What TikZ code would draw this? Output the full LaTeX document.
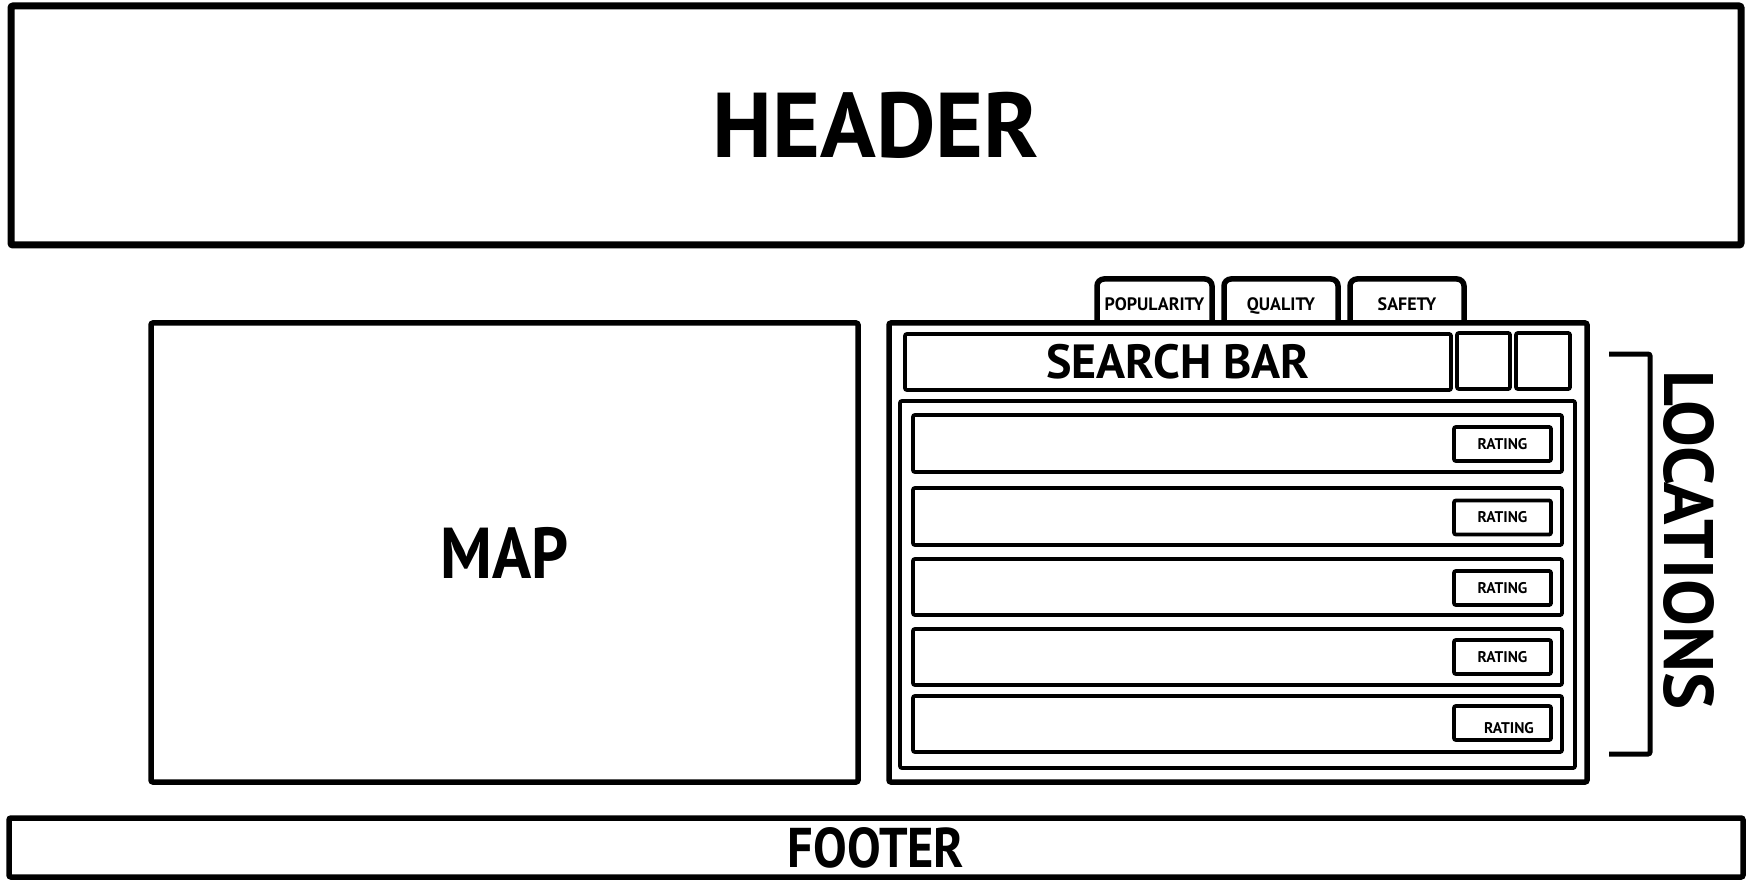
\documentclass[tikz,border=0pt]{standalone}
\usepackage{fontspec}
\setmainfont{PT Sans}
\newfontfamily\narrowfont{PT Sans}[FakeStretch=0.9]
\begin{document}
\begin{tikzpicture}[x=1pt,y=-1pt,
  box/.style={draw=black, rectangle, rounded corners=2pt, inner sep=0pt, font=\bfseries},
  thick box/.style={box, line width=7pt},
  mid box/.style={box, line width=5.5pt},
  thin box/.style={box, line width=3.8pt},
  lbl/.style={inner sep=0pt, font=\bfseries}]
\useasboundingbox (0,0) rectangle (1751,893);
% header
\node[thick box, minimum width=1730, minimum height=239, font=\bfseries\fontsize{92}{92}\selectfont] (header) at (876,125.5) {HEADER};
% map
\node[mid box, minimum width=707, minimum height=459, font=\narrowfont\bfseries\fontsize{72}{72}\selectfont] (map) at (504.5,552.5) {MAP};
% tabs
\foreach \nm/\xa/\xb/\tx in {tpop/1097/1212/POPULARITY, tqual/1224/1338/QUALITY, tsafe/1350/1464/SAFETY}{
  \draw[line width=5.5pt, rounded corners=7pt] (\xa,325) -- (\xa,279) -- (\xb,279) -- (\xb,325);
  \node[lbl, anchor=base, font=\bfseries\fontsize{18}{18}\selectfont] (\nm) at ({(\xa+\xb)/2},310.5) {\tx};
}
% panel
\node[mid box, fill=white, minimum width=698, minimum height=459] (panel) at (1238,552.5) {};
% search
\node[thin box, minimum width=546, minimum height=56, font=\bfseries\fontsize{48}{48}\selectfont] (search) at (1178,362) {SEARCH BAR};
\node[thin box, minimum width=53, minimum height=56] (btna) at (1483.5,361) {};
\node[thin box, minimum width=54, minimum height=56] (btnb) at (1543,361) {};
% list
\node[thin box, minimum width=675, minimum height=367] (list) at (1237.5,584.5) {};
\foreach \i/\y/\h/\ry in {1/443.5/57/444, 2/516.5/57/517.5, 3/587/56/588, 4/657/56/657}{
  \node[thin box, minimum width=649, minimum height=\h] (row\i) at (1237.5,\y) {};
  \node[thin box, minimum width=97, minimum height=34, font=\bfseries\fontsize{15.5}{15.5}\selectfont] (rate\i) at (1502.5,\ry) {RATING};
}
\node[thin box, minimum width=649, minimum height=56] (row5) at (1237.5,724) {};
\node[thin box, minimum width=97, minimum height=34] (rate5) at (1502.5,723) {};
\node[lbl, font=\bfseries\fontsize{15.5}{15.5}\selectfont] (rate5t) at (1509,728) {RATING};
% bracket
\coordinate (bt) at (1609,354);
\coordinate (bb) at (1609,754);
\draw[line width=5pt, rounded corners=2pt] (bt) -- (1650,354) -- (1650,754) -- (bb);
\node[lbl, rotate=-90, font=\bfseries\fontsize{70}{70}\selectfont] (loc) at (1689,540) {LOCATIONS};
% footer
\node[mid box, minimum width=1734, minimum height=59, font=\narrowfont\bfseries\fontsize{56}{56}\selectfont] (footer) at (876,847.5) {FOOTER};
\end{tikzpicture}
\end{document}
